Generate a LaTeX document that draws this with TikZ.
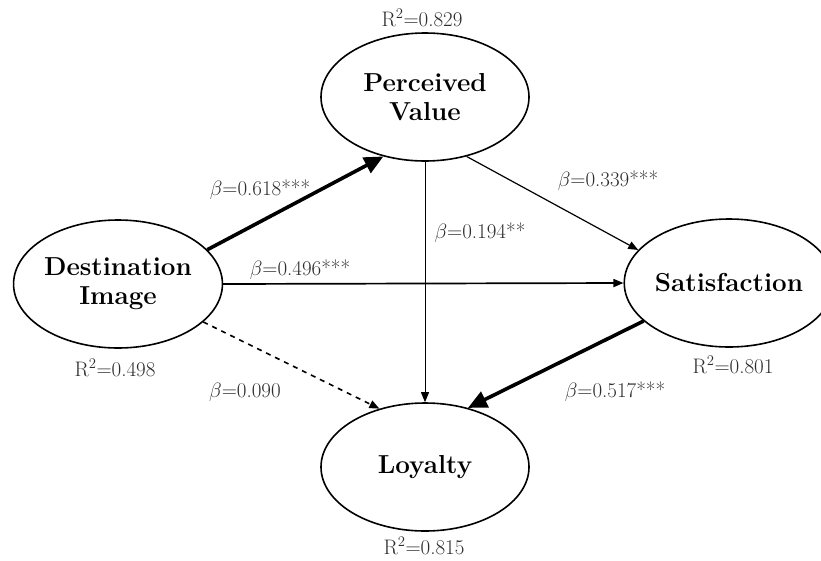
\documentclass[tikz,border=0pt]{standalone}
\usepackage{amsmath}
\usepackage{amssymb}
\usepackage{tikz}
\usetikzlibrary{arrows.meta,shapes.geometric}
\definecolor{labgray}{RGB}{45,45,45}
\tikzset{
  construct/.style={ellipse,draw,line width=1.6pt,minimum width=208pt,minimum height=128pt,inner sep=0pt,align=center,font=\fontsize{26}{29}\selectfont\bfseries},
  coef/.style={text=labgray,font=\fontsize{21}{23}\selectfont,inner sep=0pt},
  bigtip/.style={-{Triangle[length=19pt,width=17pt]}},
  smalltip/.style={-{Triangle[length=10pt,width=8pt]}}
}
\begin{document}
\begin{tikzpicture}[x=1pt,y=-1pt]
            \useasboundingbox (0,0) rectangle (821,560);
            \node[construct] (PV) at (425,97) {Perceived\\Value};
            \node[construct] (DI) at (118,284) {Destination\\Image};
            \node[construct] (SA) at (729,283) {Satisfaction};
            \node[construct] (LO) at (425,467) {Loyalty};
            % R squared
            \node[coef] (rPV) at (422,18) {R\textsuperscript{2}=0.829};
            \node[coef] (rDI) at (115,368) {R\textsuperscript{2}=0.498};
            \node[coef] (rSA) at (733,365) {R\textsuperscript{2}=0.801};
            \node[coef] (rLO) at (424,546) {R\textsuperscript{2}=0.815};
            % paths
            \draw[bigtip,line width=3.6pt] (DI.21) -- (PV.235);
            \draw[smalltip,line width=1.7pt] (DI.east) -- (SA.west);
            \draw[smalltip,line width=0.8pt] (PV.south) -- (LO.north);
            \draw[smalltip,line width=1.2pt] (PV.305) -- (SA.160);
            \draw[smalltip,line width=1.6pt,dash pattern=on 5pt off 5pt] (DI.336) -- (LO.128);
            \draw[bigtip,line width=3.6pt] (SA.204) -- (LO.54);
            \node[coef] (b1) at (260,190) {$\beta$=0.618***};
            \node[coef] (b2) at (300,270) {$\beta$=0.496***};
            \node[coef] (b3) at (480,233) {$\beta$=0.194**};
            \node[coef] (b4) at (608,181) {$\beta$=0.339***};
            \node[coef] (b5) at (245,392) {$\beta$=0.090};
            \node[coef] (b6) at (615,392) {$\beta$=0.517***};
\end{tikzpicture}
\end{document}
